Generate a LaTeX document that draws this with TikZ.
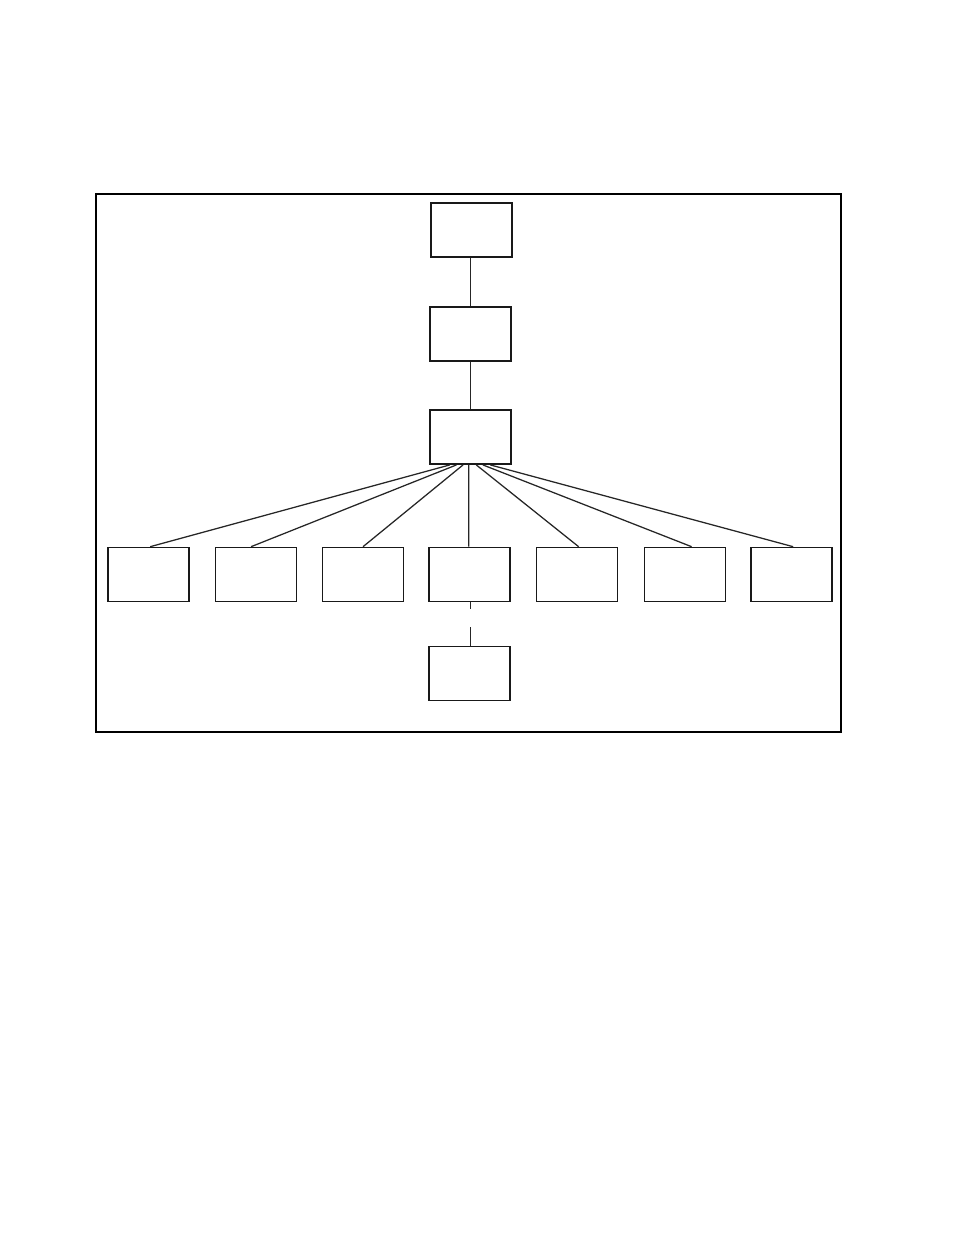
\documentclass[tikz,border=0pt]{standalone}
\usetikzlibrary{calc}
\begin{document}
\begin{tikzpicture}[x=0.75pt,y=-0.75pt,
  box/.style={draw=black!90,line width=1.2pt,inner sep=0pt,minimum width=60.75pt,minimum height=40.5pt},
  framebox/.style={draw=black,line width=0.8pt,inner sep=0pt,minimum width=558.75pt,minimum height=403.5pt},
  conn/.style={draw=black!85,line width=0.95pt},
  gapconn/.style={conn,dash pattern=on 5.25pt off 13.5pt on 40pt}]
\useasboundingbox (0,0) rectangle (954,1235);
\node[framebox] (frame) at (468.5,463) {};
\node[box,line width=0.8pt] (top) at (471.5,230) {};
\node[box] (mid) at (470.5,334) {};
\node[box,line width=1.4pt] (hub) at (470.5,437) {};
\node[box] (c1) at (148.5,574.5) {};
\node[box] (c2) at (256,574.5) {};
\node[box] (c3) at (363,574.5) {};
\node[box] (c4) at (469.5,574.5) {};
\node[box] (c5) at (577,574.5) {};
\node[box] (c6) at (685,574.5) {};
\node[box] (c7) at (791.5,574.5) {};
\node[box] (sub) at (469.5,673.5) {};
\draw[conn] (mid.north) -- (mid.north |- top.south);
\draw[conn] (mid.south) -- (hub.north);
\draw[conn] ($(hub.south west)!0.25!(hub.south east)$) -- ($(c1.north west)!0.52!(c1.north east)$);
\draw[conn] ($(hub.south west)!0.33!(hub.south east)$) -- ($(c2.north west)!0.44!(c2.north east)$);
\draw[conn] ($(hub.south west)!0.41!(hub.south east)$) -- ($(c3.north west)!0.5!(c3.north east)$);
\draw[conn] ($(hub.south west)!0.48!(hub.south east)$) -- ($(c4.north west)!0.49!(c4.north east)$);
\draw[conn] ($(hub.south west)!0.57!(hub.south east)$) -- ($(c5.north west)!0.52!(c5.north east)$);
\draw[conn] ($(hub.south west)!0.65!(hub.south east)$) -- ($(c6.north west)!0.58!(c6.north east)$);
\draw[conn] ($(hub.south west)!0.74!(hub.south east)$) -- ($(c7.north west)!0.52!(c7.north east)$);
\draw[gapconn] ($(c4.south)+(1,0)$) -- ($(sub.north)+(1,0)$);
\end{tikzpicture}
\end{document}
